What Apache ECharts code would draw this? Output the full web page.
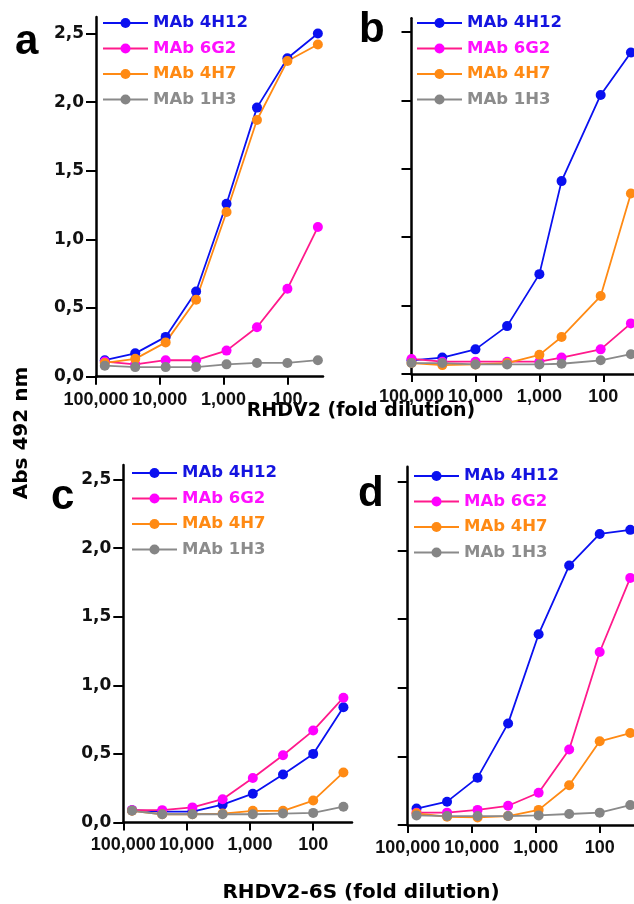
<!DOCTYPE html>
<html>
<head>
<meta charset="utf-8">
<script src="https://cdn.jsdelivr.net/npm/echarts@6/dist/echarts.min.js"></script>
<style>
html, body { margin: 0; padding: 0; background: #fff; }
#main { width: 634px; height: 904px; }
</style>
</head>
<body>
<div id="main"></div>
<script>
// dilutions (fold)
var dilution_acd = [72900, 24300, 8100, 2700, 900, 300, 100, 33.3];
var dilution_b = [100000, 33000, 10000, 3200, 1000, 450, 110, 37];

var mab_names = ['MAb 4H12', 'MAb 6G2', 'MAb 4H7', 'MAb 1H3'];

var x_tick_values = [100000, 10000, 1000, 100];
var x_tick_labels = ['100,000', '10,000', '1,000', '100'];
var y_tick_values = [0, 0.5, 1, 1.5, 2, 2.5];
var y_tick_labels = ['0,0', '0,5', '1,0', '1,5', '2,0', '2,5'];

// a : RHDV2
var a_4H12 = [0.12, 0.17, 0.29, 0.62, 1.26, 1.96, 2.32, 2.50];
var a_6G2  = [0.11, 0.09, 0.12, 0.12, 0.19, 0.36, 0.64, 1.09];
var a_4H7  = [0.10, 0.13, 0.25, 0.56, 1.20, 1.87, 2.30, 2.42];
var a_1H3  = [0.08, 0.07, 0.07, 0.07, 0.09, 0.10, 0.10, 0.12];

// b : RHDV2
var b_4H12 = [0.10, 0.12, 0.18, 0.35, 0.73, 1.41, 2.04, 2.35];
var b_6G2  = [0.11, 0.09, 0.09, 0.09, 0.09, 0.12, 0.18, 0.37];
var b_4H7  = [0.08, 0.065, 0.07, 0.08, 0.14, 0.27, 0.57, 1.32];
var b_1H3  = [0.08, 0.08, 0.07, 0.07, 0.07, 0.075, 0.10, 0.145];

// c : RHDV2-6S
var c_4H12 = [0.09, 0.08, 0.08, 0.13, 0.21, 0.35, 0.50, 0.84];
var c_6G2  = [0.09, 0.09, 0.11, 0.17, 0.325, 0.49, 0.67, 0.91];
var c_4H7  = [0.085, 0.06, 0.06, 0.065, 0.085, 0.085, 0.16, 0.365];
var c_1H3  = [0.085, 0.06, 0.06, 0.06, 0.06, 0.065, 0.07, 0.115];

// d : RHDV2-6S
var d_4H12 = [0.12, 0.17, 0.345, 0.74, 1.39, 1.89, 2.12, 2.15];
var d_6G2  = [0.09, 0.09, 0.11, 0.14, 0.235, 0.55, 1.26, 1.80];
var d_4H7  = [0.085, 0.06, 0.055, 0.065, 0.11, 0.29, 0.61, 0.67];
var d_1H3  = [0.07, 0.065, 0.065, 0.065, 0.07, 0.08, 0.09, 0.145];

var FONT = "'DejaVu Sans', sans-serif";
var FONT_ARIAL = "'Liberation Sans', Arial, sans-serif";
var line_colors = ['#0a10f0', '#ff1a8c', '#ff8a14', '#8a8a8a'];
var dot_colors = ['#0a10f0', '#ff00ff', '#ff8a14', '#858585'];
var text_colors = ['#1414e0', '#ff10ff', '#ff8a14', '#8c8c8c'];

// 4 panels layout
var panels = [
    { letter: 'a', dil: dilution_acd, values: [a_4H12, a_6G2, a_4H7, a_1H3],
      grid: { left: 96, top: 17, width: 227, height: 359.7 }, xEnd: 1.442, yMax: 2.62, yLabels: true,
      legend: { left: 102, top: 13 }, letterPos: [15, 41] },
    { letter: 'b', dil: dilution_b, values: [b_4H12, b_6G2, b_4H7, b_1H3],
      grid: { left: 411.5, top: 18.3, width: 222.5, height: 355.7 }, xEnd: 1.52, yMax: 2.6, yLabels: false,
      legend: { left: 416, top: 13 }, letterPos: [359, 29] },
    { letter: 'c', dil: dilution_acd, values: [c_4H12, c_6G2, c_4H7, c_1H3],
      grid: { left: 123.3, top: 465, width: 228.7, height: 357.5 }, xEnd: 1.387, yMax: 2.606, yLabels: true,
      legend: { left: 131, top: 463 }, letterPos: [51, 496] },
    { letter: 'd', dil: dilution_acd, values: [d_4H12, d_6G2, d_4H7, d_1H3],
      grid: { left: 407.7, top: 466.7, width: 226.3, height: 358.3 }, xEnd: 1.464, yMax: 2.61, yLabels: false,
      legend: { left: 413, top: 466 }, letterPos: [358, 493] }
];

function xLabel(v) {
    for (var i = 0; i < x_tick_values.length; i++) {
        if (Math.abs(Math.log10(x_tick_values[i]) - v) < 1e-6) return x_tick_labels[i];
    }
    return '';
}
function yLabel(v) {
    for (var i = 0; i < y_tick_values.length; i++) {
        if (Math.abs(y_tick_values[i] - v) < 1e-6) return y_tick_labels[i];
    }
    return '';
}

var grids = [], xAxes = [], yAxes = [], legends = [], series = [], graphics = [];
var xTicksLog = x_tick_values.map(function (v) { return Math.log10(v); });

panels.forEach(function (p, i) {
    grids.push(p.grid);
    xAxes.push({
        gridIndex: i,
        type: 'value',
        inverse: true,
        min: p.xEnd,
        max: 5.0005,
        axisLine: { lineStyle: { color: '#000', width: 2.5 } },
        axisTick: { customValues: xTicksLog, length: 8, lineStyle: { color: '#000', width: 2 } },
        axisLabel: {
            customValues: xTicksLog,
            formatter: xLabel,
            interval: 0,
            hideOverlap: false,
            showMinLabel: true,
            showMaxLabel: true,
            margin: 14,
            color: '#111',
            fontFamily: FONT_ARIAL,
            fontWeight: 'bold',
            fontSize: 18
        },
        splitLine: { show: false }
    });
    yAxes.push({
        gridIndex: i,
        type: 'value',
        min: 0,
        max: p.yMax,
        axisLine: { show: true, lineStyle: { color: '#000', width: 2.5 } },
        axisTick: { show: true, customValues: y_tick_values, length: 10, lineStyle: { color: '#000', width: 2 } },
        axisLabel: {
            show: p.yLabels,
            customValues: y_tick_values,
            formatter: yLabel,
            margin: 12,
            color: '#111',
            fontFamily: FONT,
            fontWeight: 'bold',
            fontSize: 17
        },
        splitLine: { show: false }
    });
    legends.push({
        orient: 'vertical',
        left: p.legend.left,
        top: p.legend.top,
        padding: 0,
        itemWidth: 45,
        itemHeight: 12.5,
        itemGap: 5.5,
        selectedMode: false,
        textStyle: { fontFamily: FONT, fontWeight: 'bold', fontSize: 16.5, lineHeight: 20 },
        data: mab_names.map(function (n, k) {
            return { name: n, textStyle: { color: text_colors[k] } };
        })
    });
    mab_names.forEach(function (n, k) {
        series.push({
            name: n,
            type: 'line',
            xAxisIndex: i,
            yAxisIndex: i,
            symbol: 'circle',
            symbolSize: 10,
            showAllSymbol: true,
            lineStyle: { color: line_colors[k], width: 1.8 },
            itemStyle: { color: dot_colors[k] },
            data: p.dil.map(function (d, j) { return [Math.log10(d), p.values[k][j]]; })
        });
    });
    graphics.push({
        type: 'text', left: p.letterPos[0], top: p.letterPos[1] - 20,
        style: { text: p.letter, fontFamily: FONT_ARIAL, fontWeight: 'bold', fontSize: 42, fill: '#000' }
    });
});

// axis titles
graphics.push({
    type: 'text', x: 22, y: 433, rotation: Math.PI / 2,
    style: { text: 'Abs 492 nm', fontFamily: FONT, fontWeight: 'bold', fontSize: 20, fill: '#000', align: 'center', verticalAlign: 'middle' }
});
graphics.push({
    type: 'text', x: 361, y: 411,
    style: { text: 'RHDV2 (fold dilution)', fontFamily: FONT, fontWeight: 'bold', fontSize: 19, fill: '#000', align: 'center', verticalAlign: 'middle' }
});
graphics.push({
    type: 'text', x: 361, y: 893,
    style: { text: 'RHDV2-6S (fold dilution)', fontFamily: FONT, fontWeight: 'bold', fontSize: 20, fill: '#000', align: 'center', verticalAlign: 'middle' }
});

var chart = echarts.init(document.getElementById('main'), null, { renderer: 'canvas' });
chart.setOption({
    animation: false,
    backgroundColor: '#fff',
    grid: grids,
    xAxis: xAxes,
    yAxis: yAxes,
    legend: legends,
    series: series,
    graphic: graphics
});
</script>
</body>
</html>
